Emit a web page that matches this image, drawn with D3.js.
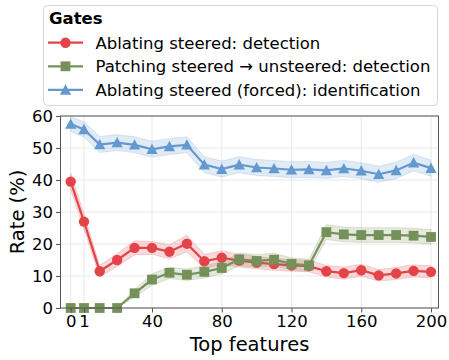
<!DOCTYPE html>
<html>
<head>
<meta charset="utf-8">
<script src="https://cdn.jsdelivr.net/npm/d3@7"></script>
<style>
  html, body { margin: 0; padding: 0; background: #fff; }
  svg { display: block; font-family: "DejaVu Sans", sans-serif; }
</style>
</head>
<body>
<svg id="chart" width="449" height="360"></svg>
<script>
// Number of top features used by each gate
const features = [0, 1, 10, 20, 30, 40, 50, 60, 70, 80, 90, 100, 110, 120, 130, 140, 150, 160, 170, 180, 190, 200];

// Rates (%) per gate
const ablatingDetection = [39.5, 27.0, 11.5, 15.0, 18.8, 18.8, 17.6, 20.1, 14.6, 15.7, 14.8, 14.2, 13.7, 13.3, 13.1, 11.5, 10.9, 11.8, 10.2, 10.8, 11.6, 11.3];
const patchingDetection = [0, 0, 0, 0, 4.6, 8.9, 11.0, 10.4, 11.3, 12.5, 15.2, 14.7, 15.1, 13.8, 13.3, 23.7, 23.0, 22.8, 22.8, 22.8, 22.6, 22.2];
const forcedIdentification = [57.5, 55.8, 51.1, 51.7, 51.0, 49.6, 50.5, 51.0, 44.8, 43.4, 44.8, 43.9, 43.6, 43.2, 43.3, 43.0, 43.6, 42.9, 41.8, 43.0, 45.4, 43.7];

// Half-width of the shaded uncertainty band
const ablatingDetectionErr = [2.6, 2.4, 1.8, 2.0, 2.2, 2.0, 2.2, 2.6, 2.2, 2.2, 2.0, 1.9, 1.9, 1.8, 1.8, 1.8, 1.9, 1.9, 1.8, 1.9, 1.9, 1.9];
const patchingDetectionErr = [0, 0, 0, 0, 1.2, 1.8, 1.8, 1.8, 1.9, 1.9, 2.0, 2.0, 2.0, 1.9, 1.9, 2.3, 2.3, 2.3, 2.3, 2.3, 2.3, 2.3];
const forcedIdentificationErr = [2.3, 2.4, 2.5, 2.5, 2.5, 2.5, 2.5, 2.5, 2.5, 2.5, 2.5, 2.5, 2.5, 2.5, 2.5, 2.5, 2.5, 2.5, 2.5, 2.6, 2.6, 2.5];

const xTicks = [0, 1, 40, 80, 120, 160, 200];
const yTicks = [0, 10, 20, 30, 40, 50, 60];

const legendTitle = "Gates";
const seriesNames = [
  "Ablating steered: detection",
  "Patching steered \u2192 unsteered: detection",
  "Ablating steered (forced): identification"
];

const series = [
  { name: seriesNames[0], values: ablatingDetection, err: ablatingDetectionErr, color: "#e2444a", marker: "circle" },
  { name: seriesNames[1], values: patchingDetection, err: patchingDetectionErr, color: "#76905a", marker: "square" },
  { name: seriesNames[2], values: forcedIdentification, err: forcedIdentificationErr, color: "#6399cf", marker: "triangle" }
];

const svg = d3.select("#chart");
const m = { left: 60.5, top: 116, right: 438.5, bottom: 308 };
const W = m.right - m.left, H = m.bottom - m.top;

// The zero-feature baseline is set slightly apart from the rest of the axis
const x = d3.scaleLinear().domain([0, 1, 200]).range([10.2, 23.5, 370.5]);
const y = d3.scaleLinear().domain([0, 60]).range([H, 0]);

const g = svg.append("g").attr("transform", `translate(${m.left},${m.top})`);

// grid
g.append("g").selectAll("line.gx").data(xTicks).join("line")
  .attr("x1", d => x(d)).attr("x2", d => x(d)).attr("y1", 0).attr("y2", H)
  .attr("stroke", "#e6e6e6").attr("stroke-width", 0.9);
g.append("g").selectAll("line.gy").data(yTicks).join("line")
  .attr("x1", 0).attr("x2", W).attr("y1", d => y(d)).attr("y2", d => y(d))
  .attr("stroke", "#e6e6e6").attr("stroke-width", 0.9);

function markerPath(type, r) {
  if (type === "circle") return d3.symbol(d3.symbolCircle, Math.PI * r * r)();
  if (type === "square") return `M${-r},${-r}H${r}V${r}H${-r}Z`;
  return `M0,${-r}L${r},${r * 0.85}L${-r},${r * 0.85}Z`;
}
const markerSize = { circle: 5.2, square: 4.9, triangle: 5.6 };

const area = d3.area().x((d, i) => x(features[i]));
const line = d3.line().x((d, i) => x(features[i])).y(d => y(d));

series.forEach(s => {
  const band = area.y0((d, i) => y(s.values[i] - s.err[i])).y1((d, i) => y(s.values[i] + s.err[i]));
  g.append("path").datum(s.values).attr("d", band)
    .attr("fill", s.color).attr("fill-opacity", 0.2)
    .attr("stroke", s.color).attr("stroke-opacity", 0.2).attr("stroke-width", 1);
  g.append("path").datum(s.values).attr("d", line)
    .attr("fill", "none").attr("stroke", s.color).attr("stroke-width", 2.2);
  g.append("g").selectAll("path").data(s.values).join("path")
    .attr("transform", (d, i) => `translate(${x(features[i])},${y(d)})`)
    .attr("d", markerPath(s.marker, markerSize[s.marker]))
    .attr("fill", s.color);
});

// frame
g.append("rect").attr("x", 0).attr("y", 0).attr("width", W).attr("height", H)
  .attr("fill", "none").attr("stroke", "#555").attr("stroke-width", 1);

// axes
const xAxis = g.append("g").attr("transform", `translate(0,${H})`)
  .call(d3.axisBottom(x).tickValues(xTicks).tickSize(4.5).tickPadding(3).tickFormat(d3.format("d")));
const yAxis = g.append("g")
  .call(d3.axisLeft(y).tickValues(yTicks).tickSize(4.5).tickPadding(3).tickFormat(d3.format("d")));
[xAxis, yAxis].forEach(a => {
  a.select(".domain").remove();
  a.selectAll(".tick line").attr("stroke", "#555").attr("stroke-width", 1);
  a.selectAll(".tick text").attr("fill", "#000").style("font-size", "16.5px").style("font-family", "DejaVu Sans");
});

// axis titles
svg.append("text").attr("x", m.left + W / 2).attr("y", 351)
  .attr("text-anchor", "middle").style("font-size", "19.5px").text("Top features");
svg.append("text").attr("transform", `translate(24,${m.top + H / 2}) rotate(-90)`)
  .attr("text-anchor", "middle").style("font-size", "19.5px").text("Rate (%)");

// legend
const lg = svg.append("g");
lg.append("rect").attr("x", 43.5).attr("y", 5.5).attr("width", 394).attr("height", 100).attr("rx", 4)
  .attr("fill", "#fff").attr("fill-opacity", 0.85).attr("stroke", "#d4d4d4").attr("stroke-width", 1);
lg.append("text").attr("x", 49).attr("y", 24).style("font-size", "16.5px").style("font-weight", "bold").text(legendTitle);
series.forEach((s, i) => {
  const cy = 42.7 + i * 23.6;
  lg.append("line").attr("x1", 48).attr("x2", 83).attr("y1", cy).attr("y2", cy)
    .attr("stroke", s.color).attr("stroke-width", 2.2);
  lg.append("path").attr("transform", `translate(65.5,${cy})`)
    .attr("d", markerPath(s.marker, markerSize[s.marker])).attr("fill", s.color);
  lg.append("text").attr("x", 95.5).attr("y", cy + 6).style("font-size", "16.5px").text(s.name);
});
</script>
</body>
</html>
